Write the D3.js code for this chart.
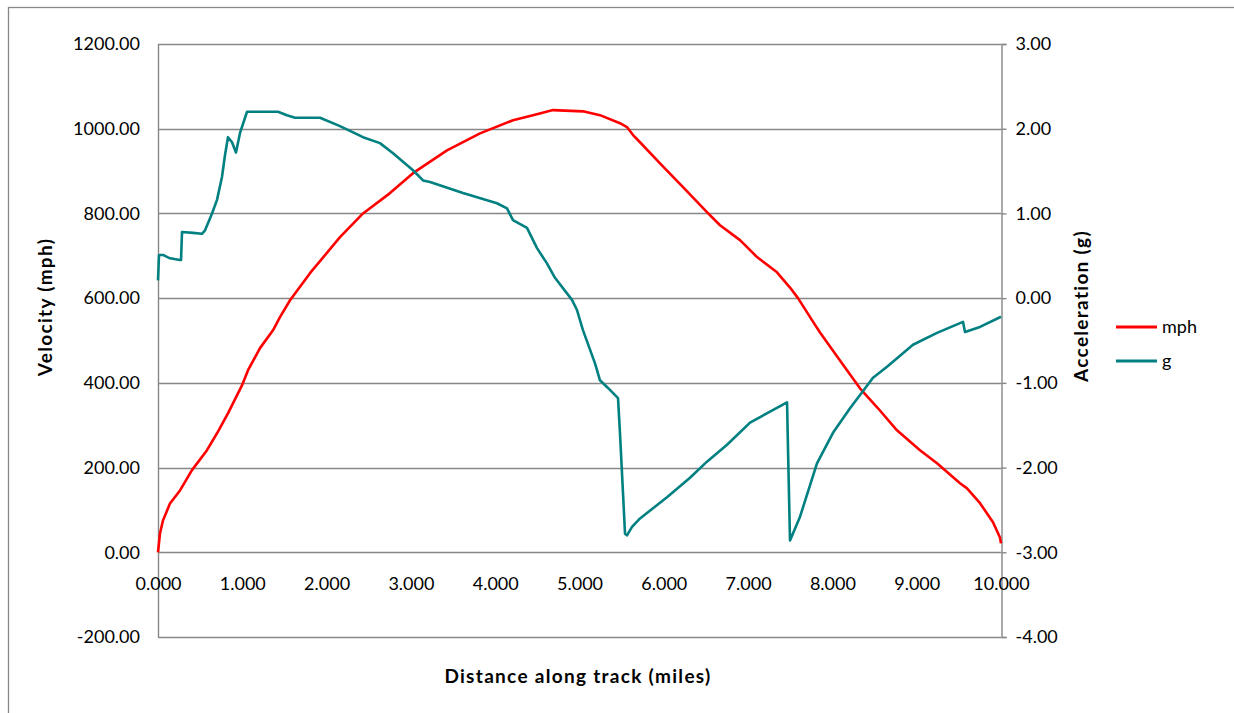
<!DOCTYPE html>
<html>
<head>
<meta charset="utf-8">
<script src="https://cdn.jsdelivr.net/npm/d3@7"></script>
<style>
  html, body { margin: 0; padding: 0; background: #fff; }
  svg { display: block; }
  text { font-family: Lato, "Open Sans", sans-serif; fill: #000; }
</style>
</head>
<body>
<svg id="chart" width="1234" height="713"></svg>
<script>
// ---- Data ----
const mphMiles = [0.000,0.024,0.059,0.142,0.261,0.403,0.581,0.700,0.830,0.996,1.068,1.210,1.364,1.447,1.566,1.803,2.159,2.432,2.752,3.025,3.428,3.820,4.211,4.448,4.686,5.042,5.243,5.480,5.563,5.635,5.718,5.955,6.228,6.512,6.667,6.904,7.106,7.343,7.497,7.592,7.758,7.853,8.090,8.327,8.541,8.766,9.039,9.241,9.514,9.597,9.751,9.905,9.988,10.000];
const mphValues = [0,45,75,115,146,194,241,281,328,394,430,482,524,555,595,659,744,800,848,895,949,989,1020,1032,1044,1041,1032,1013,1004,985,968,918,862,803,772,737,697,661,625,600,548,519,453,387,340,288,241,210,163,151,116,71,35,21];

const gMiles = [0.000,0.012,0.059,0.142,0.261,0.273,0.285,0.415,0.522,0.558,0.641,0.700,0.759,0.795,0.830,0.878,0.925,0.973,1.056,1.423,1.530,1.625,1.922,2.159,2.432,2.633,2.788,3.025,3.144,3.227,3.618,4.021,4.140,4.211,4.377,4.496,4.614,4.709,4.911,4.970,5.042,5.184,5.243,5.338,5.457,5.480,5.516,5.540,5.563,5.623,5.718,5.872,6.038,6.311,6.512,6.750,7.023,7.260,7.462,7.473,7.497,7.616,7.817,8.007,8.209,8.482,8.648,8.956,9.241,9.549,9.573,9.751,10.000];
const gValues = [0.21,0.51,0.51,0.47,0.45,0.45,0.78,0.77,0.76,0.80,1.00,1.16,1.43,1.69,1.90,1.84,1.72,1.95,2.20,2.20,2.16,2.13,2.13,2.03,1.90,1.83,1.71,1.51,1.39,1.37,1.24,1.12,1.06,0.92,0.83,0.59,0.41,0.24,-0.02,-0.14,-0.38,-0.77,-0.97,-1.06,-1.18,-1.59,-2.30,-2.78,-2.80,-2.70,-2.60,-2.48,-2.35,-2.12,-1.93,-1.73,-1.47,-1.34,-1.23,-1.76,-2.86,-2.58,-1.95,-1.59,-1.30,-0.94,-0.81,-0.55,-0.41,-0.28,-0.40,-0.34,-0.22];

const xTicks = [0,1,2,3,4,5,6,7,8,9,10];
const leftTicks = [-200,0,200,400,600,800,1000,1200];
const rightTicks = [-4,-3,-2,-1,0,1,2,3];
const seriesNames = ["mph","g"];
const seriesColors = ["#ff0000","#008080"];
const xTitle = "Distance along track (miles)";
const leftTitle = "Velocity (mph)";
const rightTitle = "Acceleration (g)";

// ---- Layout ----
const svg = d3.select("#chart");
const L = 158, R = 1001, T = 44, B = 637;
const gridColor = "#878787";
const tickFont = "18px";

const x = d3.scaleLinear().domain([0, 10]).range([L, R]);
const yL = d3.scaleLinear().domain([-200, 1200]).range([B, T]);
const yR = d3.scaleLinear().domain([-4, 3]).range([B, T]);

const fmt = p => (d => d3.format(p)(d).replace("\u2212", "-"));

// Outer chart border
svg.append("rect").attr("x", 8.5).attr("y", 7.5).attr("width", 1240).attr("height", 720)
  .attr("fill", "none").attr("stroke", gridColor).attr("stroke-width", 1.3);

// Gridlines
svg.append("g").selectAll("line").data(leftTicks).join("line")
  .attr("x1", L).attr("x2", R)
  .attr("y1", d => Math.round(yL(d)) + 0.5).attr("y2", d => Math.round(yL(d)) + 0.5)
  .attr("stroke", gridColor).attr("stroke-width", 1.4);

// Plot frame left
svg.append("line").attr("x1", L + 0.5).attr("x2", L + 0.5).attr("y1", T).attr("y2", B)
  .attr("stroke", gridColor).attr("stroke-width", 1.4);

// Left axis (labels only)
const leftAxis = svg.append("g").attr("transform", `translate(${L},0)`)
  .call(d3.axisLeft(yL).tickValues(leftTicks).tickSize(0).tickPadding(18).tickFormat(fmt(".2f")));
leftAxis.select(".domain").remove();
leftAxis.selectAll("text").style("font-size", tickFont).style("font-family", "Lato, sans-serif");

// Right axis
const rightAxis = svg.append("g").attr("transform", `translate(${R + 0.5},0)`)
  .call(d3.axisRight(yR).tickValues(rightTicks).tickSize(5).tickPadding(9).tickFormat(fmt(".2f")));
rightAxis.select(".domain").attr("stroke", gridColor).attr("stroke-width", 1.4);
rightAxis.selectAll(".tick line").attr("stroke", gridColor).attr("stroke-width", 1.4);
rightAxis.selectAll("text").style("font-size", tickFont).style("font-family", "Lato, sans-serif");

// X axis at mph = 0 (labels only; the zero gridline is the axis line)
const xAxis = svg.append("g").attr("transform", `translate(0,${yL(0)})`)
  .call(d3.axisBottom(x).tickValues(xTicks).tickSize(0).tickPadding(25).tickFormat(fmt(".3f")));
xAxis.select(".domain").remove();
xAxis.selectAll("text").style("font-size", tickFont).style("font-family", "Lato, sans-serif");

// Lines
const mphData = mphMiles.map((m, i) => [m, mphValues[i]]);
const gData = gMiles.map((m, i) => [m, gValues[i]]);

svg.append("path").datum(mphData)
  .attr("fill", "none").attr("stroke", seriesColors[0]).attr("stroke-width", 2.6)
  .attr("stroke-linejoin", "round")
  .attr("d", d3.line().x(d => x(d[0])).y(d => yL(d[1])));

svg.append("path").datum(gData)
  .attr("fill", "none").attr("stroke", seriesColors[1]).attr("stroke-width", 2.6)
  .attr("stroke-linejoin", "round")
  .attr("d", d3.line().x(d => x(d[0])).y(d => yR(d[1])));

// Axis titles
const titleStyle = sel => sel.style("font-size", "19px").style("font-weight", "bold").style("letter-spacing", "1.3px");
svg.append("text").attr("x", 578).attr("y", 683).attr("text-anchor", "middle")
  .call(titleStyle).text(xTitle);

svg.append("text").attr("transform", "translate(52,307) rotate(-90)").attr("text-anchor", "middle")
  .call(titleStyle).text(leftTitle);

svg.append("text").attr("transform", "translate(1088,306) rotate(-90)").attr("text-anchor", "middle")
  .call(titleStyle).text(rightTitle);

// Legend
const legY = [327, 361];
const leg = svg.append("g");
seriesNames.forEach((name, i) => {
  leg.append("line").attr("x1", 1116).attr("x2", 1157).attr("y1", legY[i]).attr("y2", legY[i])
    .attr("stroke", seriesColors[i]).attr("stroke-width", 3);
  leg.append("text").attr("x", 1162).attr("y", legY[i]).attr("dy", "0.35em")
    .style("font-size", tickFont).text(name);
});
</script>
</body>
</html>
